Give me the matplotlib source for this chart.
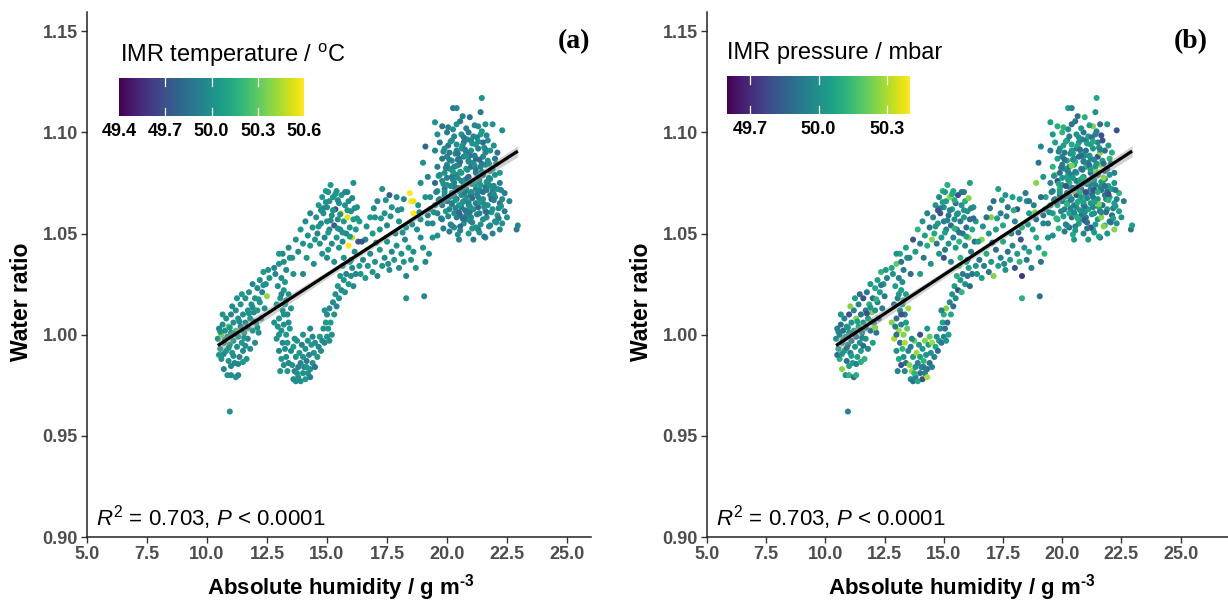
import numpy as np
import matplotlib
matplotlib.use("Agg")
import matplotlib.pyplot as plt
from matplotlib.colors import Normalize

# ---------------- data ----------------
abs_humidity = [
    # left cluster
    10.45, 10.50, 10.55, 10.60, 10.60, 10.65, 10.70, 10.70, 10.75, 10.80,
    10.80, 10.85, 10.85, 10.90, 10.90, 10.95, 11.00, 11.00, 11.00, 11.05,
    11.10, 11.10, 11.15, 11.20, 11.20, 11.20, 11.25, 11.30, 11.30, 11.35,
    11.40, 11.40, 11.45, 11.50, 11.50, 11.55, 11.60, 11.60, 11.65, 11.70,
    11.70, 11.75, 11.80, 11.80, 11.85, 11.90, 11.90, 11.95, 12.00, 12.00,
    12.05, 12.10, 12.10, 12.15, 12.20, 12.20, 12.25, 12.30, 12.35, 12.40,
    12.45, 12.50, 12.55, 10.95, 11.30, 10.50, 10.65, 11.05, 11.45, 11.25,
    10.55, 10.75, 10.95, 11.15, 11.35, 11.55, 11.75, 11.95, 12.15, 12.35,
    10.70, 10.90, 11.10, 11.30, 11.50, 11.70, 11.90, 12.10, 11.60, 11.00,
    # vertical streak
    12.80, 12.85, 12.90, 12.90, 12.95, 13.00, 13.00, 13.00, 13.05, 13.10,
    13.10, 13.10, 13.15, 13.15, 13.20, 13.20, 13.20, 13.25, 13.25, 13.30,
    13.30, 13.30, 13.35, 13.35, 13.40, 13.40, 13.45, 13.45, 13.50, 13.50,
    13.05, 13.15, 13.25, 13.00, 13.40, 13.35, 13.20, 13.10, 13.30, 12.95,
    # lower blob
    13.55, 13.60, 13.60, 13.65, 13.70, 13.70, 13.75, 13.80, 13.80, 13.85,
    13.90, 13.90, 13.95, 14.00, 14.00, 14.05, 14.10, 14.10, 14.15, 14.20,
    14.20, 14.25, 14.30, 14.30, 14.35, 14.40, 14.40, 14.45, 14.50, 14.50,
    14.60, 14.65, 14.70, 14.75, 14.80, 13.65, 14.00, 14.30, 13.75, 14.15,
    # rising arm
    14.85, 14.90, 14.95, 15.00, 15.00, 15.05, 15.10, 15.10, 15.15, 15.20,
    15.25, 15.30, 15.35, 15.40, 15.45, 15.50, 15.60, 15.70, 15.75, 15.80,
    15.90, 16.00, 16.05, 14.90, 15.55, 16.20, 16.35, 15.65, 16.10, 15.95,
    # upper-left arm
    12.60, 12.80, 13.00, 13.20, 13.40, 13.55, 13.70, 13.80, 13.90, 14.00,
    14.10, 14.15, 14.20, 14.30, 14.30, 14.40, 14.45, 14.50, 13.60, 14.00,
    # hump
    14.55, 14.60, 14.65, 14.70, 14.75, 14.80, 14.85, 14.90, 14.95, 15.00,
    15.00, 15.05, 15.10, 15.10, 15.15, 15.20, 15.20, 15.25, 15.30, 15.35,
    15.40, 15.40, 15.45, 15.50, 15.50, 15.55, 15.60, 15.60, 15.65, 15.70,
    15.75, 15.80, 15.85, 15.90, 15.90, 15.95, 16.00, 16.05, 16.10, 16.10,
    16.15, 16.20, 16.25, 16.30, 16.35, 15.30, 15.00, 14.80, 15.70, 16.00,
    14.65, 14.85, 15.05, 15.25, 15.45, 15.65, 15.85, 16.05, 16.25, 14.95,
    15.15, 15.35, 15.55, 15.75, 15.95, 16.15, 14.75, 15.05, 15.45, 15.85,
    # middle band
    16.40, 16.50, 16.60, 16.70, 16.80, 16.90, 17.00, 17.10, 17.20, 17.30,
    17.40, 17.50, 17.60, 17.70, 17.80, 17.90, 18.00, 18.10, 18.20, 18.30,
    18.40, 18.50, 18.60, 18.70, 18.30, 19.05, 16.90, 17.00, 17.10, 17.20,
    17.40, 17.50, 17.60, 17.70, 17.90, 18.00, 18.10, 18.20, 18.30, 18.45,
    18.50, 18.60, 18.60, 18.80, 18.90, 18.90, 19.00, 16.60, 16.80, 17.30,
    19.20, 19.30, 19.40, 19.10, 16.45, 17.55, 18.25, 18.75, 19.25, 17.85,
    16.65, 16.95, 17.25, 17.65, 17.95, 18.15, 18.55, 18.85, 17.05, 17.45,
    # main cluster
    19.60, 20.10, 20.50, 20.90, 21.30, 21.60, 21.90, 22.20, 20.30, 21.10,
    19.40, 19.80, 20.20, 20.40, 20.70, 21.00, 21.20, 21.50, 21.80, 22.00,
    22.30, 19.20, 19.60, 19.95, 20.55, 20.85, 21.35, 21.65, 22.10, 22.40,
    20.10, 20.30, 20.60, 20.80, 21.10, 21.30, 21.60, 21.90, 19.80, 21.00,
    19.50, 20.00, 20.20, 20.50, 20.70, 20.90, 21.20, 21.40, 21.70, 22.20,
    22.30, 19.30, 19.70, 19.90, 20.10, 20.40, 20.60, 20.80, 21.00, 21.30,
    21.50, 21.80, 22.00, 19.60, 19.90, 20.20, 20.30, 20.50, 20.80, 21.00,
    21.20, 21.40, 21.60, 21.90, 22.10, 19.50, 19.80, 20.00, 20.30, 20.60,
    20.70, 20.90, 21.10, 21.40, 21.70, 21.80, 22.20, 19.70, 19.90, 20.20,
    20.40, 20.60, 20.90, 21.20, 21.30, 21.50, 21.80, 22.00, 19.60, 20.00,
    20.10, 20.30, 20.50, 20.80, 21.00, 21.10, 21.40, 21.60, 21.90, 19.80,
    20.00, 20.20, 20.50, 20.70, 20.90, 21.20, 21.50, 21.70, 22.00, 19.50,
    19.90, 20.10, 20.40, 20.60, 20.80, 21.00, 21.30, 21.60, 21.80, 19.70,
    20.20, 20.40, 20.70, 21.00, 21.20, 21.50, 21.70, 19.60, 20.00, 20.30,
    20.60, 20.90, 21.10, 21.40, 19.80, 20.40, 20.80, 21.30, 21.60, 20.25,
    20.40, 21.45, 21.40, 20.65, 19.50, 19.10, 22.30, 21.90, 22.40, 22.60,
    22.50, 22.90, 22.95, 22.20, 22.10, 19.00, 19.20, 18.90, 19.10, 20.75,
    20.35, 20.65, 20.95, 21.25, 21.55, 21.85, 20.15, 20.45, 20.75, 21.05,
    21.35, 21.65, 21.95, 20.25, 20.55, 20.85, 21.15, 21.45, 21.75, 20.05,
    20.35, 20.65, 20.95, 21.25, 21.55, 20.55, 20.95, 21.35, 19.75, 22.15,
    19.45, 19.75, 20.05, 20.35, 20.65, 20.95, 21.25, 21.55, 21.85, 22.15,
    19.55, 19.85, 20.15, 20.45, 20.75, 21.05, 21.35, 21.65, 21.95, 22.25,
    19.65, 19.95, 20.25, 20.55, 20.85, 21.15, 21.45, 21.75, 22.05, 20.45,
    19.85, 20.15, 20.45, 20.75, 21.05, 21.35, 21.65, 21.95, 20.05, 20.85,
    20.25, 20.55, 21.15, 21.45, 20.95, 21.05, 20.55, 21.75, 22.05, 21.55,
    20.15, 20.45, 20.75, 21.05, 21.35, 21.65, 21.95, 22.25, 19.85, 19.65,
    20.30, 20.60, 20.90, 21.20, 21.50, 21.80, 20.00, 20.40, 20.80, 21.20,
    21.60, 21.30, 20.70, 20.10, 19.90, 20.50, 21.00, 21.40, 20.20, 20.90,
]

water_ratio = [
    # left cluster
    0.998, 1.003, 0.993, 1.000, 0.988, 1.005, 0.996, 0.983, 1.002, 0.992,
    1.008, 0.999, 0.980, 0.987, 1.004, 0.995, 1.010, 1.001, 0.980, 0.991,
    1.006, 0.997, 0.986, 1.012, 1.002, 0.979, 0.994, 1.008, 0.999, 0.989,
    1.015, 1.004, 0.996, 1.010, 0.992, 1.001, 1.018, 1.006, 0.988, 1.012,
    0.998, 1.021, 1.008, 0.993, 1.015, 1.002, 1.025, 1.011, 1.018, 0.996,
    1.006, 1.023, 1.012, 1.001, 1.027, 1.016, 1.008, 1.021, 1.031, 1.013,
    1.025, 1.019, 1.032, 0.962, 0.980, 0.990, 1.010, 1.014, 1.020, 1.018,
    1.0015, 0.9975, 1.0035, 1.0005, 1.0065, 0.9985, 1.0105, 1.0065, 1.0175, 1.0245,
    0.9905, 0.9935, 0.9895, 0.9855, 0.9865, 1.0035, 1.0135, 1.0035, 0.9945, 0.9845,
    # vertical streak
    1.006, 1.030, 1.015, 0.998, 1.024, 1.008, 1.035, 0.992, 1.018, 1.002,
    1.028, 0.988, 1.012, 0.996, 1.022, 1.005, 0.985, 1.015, 0.993, 1.032,
    1.000, 0.989, 1.010, 0.996, 1.020, 0.986, 1.003, 1.038, 0.992, 1.013,
    0.982, 1.040, 1.026, 1.000, 1.006, 0.982, 1.010, 1.020, 1.017, 1.004,
    # lower blob
    0.985, 0.978, 0.994, 0.982, 0.989, 0.977, 0.997, 0.984, 0.979, 0.991,
    0.986, 0.977, 0.995, 0.981, 0.989, 0.984, 0.978, 0.993, 0.987, 0.981,
    0.997, 0.990, 0.983, 0.979, 0.995, 0.986, 0.999, 0.991, 0.984, 0.996,
    0.989, 0.994, 0.999, 0.992, 0.997, 0.998, 1.000, 1.003, 0.981, 0.984,
    # rising arm
    1.003, 0.996, 1.006, 0.999, 1.010, 1.003, 0.997, 1.013, 1.006, 1.000,
    1.016, 1.010, 1.020, 1.014, 1.024, 1.018, 1.022, 1.027, 1.021, 1.030,
    1.025, 1.029, 1.033, 1.012, 1.029, 1.030, 1.034, 1.034, 1.024, 1.036,
    # upper-left arm
    1.028, 1.033, 1.040, 1.036, 1.043, 1.038, 1.047, 1.041, 1.052, 1.045,
    1.056, 1.038, 1.049, 1.060, 1.044, 1.053, 1.035, 1.047, 1.030, 1.030,
    # hump
    1.058, 1.050, 1.064, 1.045, 1.055, 1.068, 1.060, 1.048, 1.071, 1.056,
    1.063, 1.042, 1.066, 1.052, 1.074, 1.059, 1.045, 1.068, 1.054, 1.062,
    1.048, 1.071, 1.057, 1.065, 1.043, 1.052, 1.069, 1.060, 1.046, 1.056,
    1.064, 1.050, 1.058, 1.044, 1.066, 1.053, 1.061, 1.048, 1.057, 1.075,
    1.041, 1.052, 1.063, 1.046, 1.056, 1.036, 1.038, 1.040, 1.038, 1.037,
    1.0535, 1.0625, 1.0505, 1.0615, 1.0665, 1.0505, 1.0615, 1.0675, 1.0575, 1.0655,
    1.0565, 1.0695, 1.0595, 1.0705, 1.0485, 1.0625, 1.0615, 1.0705, 1.0525, 1.0705,
    # middle band
    1.030, 1.037, 1.028, 1.034, 1.040, 1.031, 1.036, 1.029, 1.042, 1.034,
    1.038, 1.046, 1.032, 1.041, 1.037, 1.044, 1.033, 1.040, 1.036, 1.029,
    1.043, 1.037, 1.041, 1.033, 1.018, 1.019, 1.050, 1.058, 1.066, 1.052,
    1.060, 1.054, 1.069, 1.063, 1.068, 1.056, 1.062, 1.067, 1.053, 1.070,
    1.066, 1.066, 1.060, 1.064, 1.048, 1.057, 1.043, 1.047, 1.058, 1.072,
    1.055, 1.062, 1.048, 1.036, 1.046, 1.035, 1.047, 1.052, 1.040, 1.050,
    1.0535, 1.0625, 1.0575, 1.0585, 1.0615, 1.0505, 1.0545, 1.0605, 1.0455, 1.0665,
    # main cluster
    1.049, 1.051, 1.047, 1.050, 1.052, 1.048, 1.050, 1.052, 1.053, 1.047,
    1.055, 1.057, 1.054, 1.058, 1.055, 1.056, 1.053, 1.057, 1.054, 1.056,
    1.055, 1.059, 1.060, 1.061, 1.059, 1.061, 1.060, 1.058, 1.059, 1.061,
    1.062, 1.060, 1.063, 1.059, 1.062, 1.063, 1.061, 1.062, 1.064, 1.058,
    1.064, 1.066, 1.065, 1.064, 1.066, 1.064, 1.065, 1.066, 1.064, 1.065,
    1.067, 1.068, 1.067, 1.069, 1.068, 1.067, 1.069, 1.068, 1.069, 1.068,
    1.067, 1.069, 1.068, 1.071, 1.072, 1.070, 1.073, 1.071, 1.072, 1.070,
    1.072, 1.071, 1.073, 1.071, 1.072, 1.075, 1.076, 1.074, 1.075, 1.076,
    1.074, 1.075, 1.076, 1.074, 1.075, 1.077, 1.075, 1.079, 1.080, 1.078,
    1.079, 1.080, 1.078, 1.080, 1.078, 1.079, 1.081, 1.079, 1.083, 1.084,
    1.082, 1.083, 1.084, 1.082, 1.083, 1.085, 1.083, 1.084, 1.082, 1.087,
    1.088, 1.086, 1.087, 1.088, 1.086, 1.087, 1.088, 1.086, 1.087, 1.091,
    1.092, 1.090, 1.091, 1.092, 1.090, 1.091, 1.092, 1.090, 1.091, 1.095,
    1.096, 1.094, 1.095, 1.096, 1.094, 1.095, 1.096, 1.099, 1.100, 1.098,
    1.099, 1.100, 1.098, 1.099, 1.103, 1.104, 1.102, 1.103, 1.104, 1.112,
    1.112, 1.117, 1.110, 1.108, 1.105, 1.093, 1.101, 1.104, 1.070, 1.066,
    1.058, 1.052, 1.054, 1.080, 1.090, 1.085, 1.078, 1.075, 1.068, 1.057,
    1.0625, 1.0655, 1.0605, 1.0695, 1.0630, 1.0670, 1.0735, 1.0775, 1.0705, 1.0745,
    1.0765, 1.0715, 1.0735, 1.0805, 1.0855, 1.0815, 1.0885, 1.0805, 1.0845, 1.0935,
    1.0895, 1.0935, 1.0885, 1.0975, 1.0925, 1.0535, 1.0565, 1.0505, 1.0575, 1.0625,
    1.0605, 1.0655, 1.0585, 1.0665, 1.0575, 1.0635, 1.0595, 1.0645, 1.0605, 1.0575,
    1.0705, 1.0745, 1.0685, 1.0725, 1.0765, 1.0675, 1.0715, 1.0755, 1.0665, 1.0715,
    1.0785, 1.0825, 1.0765, 1.0805, 1.0775, 1.0835, 1.0845, 1.0775, 1.0845, 1.0895,
    1.0905, 1.0955, 1.0865, 1.0915, 1.0945, 1.0865, 1.0985, 1.0935, 1.1025, 1.0965,
    1.1015, 1.1055, 1.1035, 1.1005, 1.1075, 1.0525, 1.0515, 1.0535, 1.0555, 1.0485,
    1.0545, 1.0495, 1.0615, 1.0555, 1.0655, 1.0605, 1.0695, 1.0635, 1.0525, 1.0665,
    1.0685, 1.0725, 1.0655, 1.0745, 1.0705, 1.0735, 1.0775, 1.0835, 1.0885, 1.0815,
    1.0915, 1.0955, 1.0975, 1.0865, 1.0705, 1.0605, 1.0705, 1.0545, 1.0645, 1.0855,
]

imr_temperature = [
    # left cluster
    50.00, 49.95, 50.05, 50.35, 50.00, 49.98, 50.02, 49.95, 50.00, 50.05,
    50.00, 49.95, 50.02, 50.00, 50.30, 50.05, 49.95, 50.00, 49.98, 50.02,
    50.00, 50.05, 49.95, 50.00, 50.30, 50.02, 49.98, 50.00, 50.05, 49.95,
    50.00, 49.97, 50.03, 50.00, 49.95, 50.05, 50.00, 49.98, 50.02, 50.00,
    49.95, 50.00, 50.05, 49.98, 50.00, 50.02, 49.95, 50.00, 50.03, 49.97,
    50.00, 49.95, 50.05, 50.00, 49.98, 50.02, 50.00, 49.95, 50.05, 50.00,
    49.98, 50.40, 50.00, 50.00, 49.95, 50.02, 50.00, 49.98, 50.05, 50.00,
    50.00, 49.95, 50.05, 50.00, 49.98, 50.02, 50.00, 49.95, 50.05, 50.00,
    49.97, 50.03, 50.00, 49.95, 50.05, 50.00, 49.98, 50.02, 50.00, 49.95,
    # vertical streak
    50.00, 49.95, 50.05, 50.00, 49.98, 50.02, 50.00, 49.95, 50.05, 50.00,
    49.97, 50.03, 50.00, 49.95, 50.05, 50.00, 49.98, 50.02, 50.00, 49.95,
    50.05, 50.00, 49.98, 50.02, 50.00, 49.95, 50.05, 50.00, 49.97, 50.03,
    50.00, 49.95, 50.05, 50.00, 49.98, 50.02, 50.00, 49.95, 50.05, 50.00,
    # lower blob
    50.00, 49.95, 50.05, 49.90, 50.00, 49.98, 50.02, 49.92, 50.00, 50.05,
    49.95, 50.00, 49.90, 50.02, 50.00, 49.95, 50.05, 50.00, 49.88, 50.00,
    50.02, 49.95, 50.00, 49.90, 50.05, 50.00, 49.95, 50.02, 49.85, 50.00,
    50.00, 49.95, 50.05, 50.00, 49.98, 50.00, 50.02, 49.95, 50.00, 50.05,
    # rising arm
    50.00, 49.95, 50.05, 50.00, 49.98, 50.02, 50.00, 49.95, 50.05, 50.00,
    49.97, 50.03, 50.00, 49.95, 50.05, 50.00, 49.98, 50.02, 50.00, 49.95,
    50.05, 50.00, 49.98, 50.02, 50.00, 49.95, 50.05, 50.00, 49.97, 50.03,
    # upper-left arm
    50.00, 49.95, 50.05, 50.00, 49.98, 50.02, 50.00, 49.95, 50.05, 50.00,
    49.97, 50.03, 50.00, 49.95, 50.05, 50.00, 49.98, 50.02, 50.00, 49.95,
    # hump
    50.00, 49.95, 50.05, 50.00, 49.98, 50.02, 50.00, 49.95, 50.05, 50.00,
    49.97, 50.03, 50.00, 49.95, 50.05, 50.00, 49.98, 50.02, 49.75, 49.70,
    50.05, 50.00, 49.98, 50.02, 50.00, 49.95, 50.05, 50.60, 49.97, 50.03,
    50.00, 49.95, 50.55, 50.60, 49.98, 50.02, 50.00, 50.50, 50.05, 50.00,
    49.97, 50.03, 50.00, 49.75, 50.05, 50.00, 49.98, 50.02, 50.00, 49.95,
    50.00, 49.95, 50.05, 50.00, 49.98, 50.02, 50.00, 49.95, 50.05, 50.00,
    49.97, 50.03, 50.00, 49.95, 50.05, 50.00, 49.98, 50.02, 50.00, 49.95,
    # middle band
    50.00, 49.95, 50.05, 50.00, 49.98, 50.02, 50.00, 49.95, 50.05, 50.00,
    49.97, 50.03, 50.00, 49.95, 50.05, 50.00, 49.98, 50.02, 50.00, 49.95,
    50.05, 50.00, 49.98, 50.02, 50.00, 49.95, 50.05, 50.00, 49.97, 50.03,
    50.00, 49.95, 49.75, 50.00, 49.98, 50.02, 50.00, 49.95, 50.05, 50.60,
    50.60, 50.55, 50.60, 50.00, 49.98, 50.02, 50.00, 49.95, 50.05, 50.00,
    49.97, 50.03, 50.00, 49.95, 49.70, 50.00, 49.98, 50.02, 50.00, 49.95,
    50.00, 49.95, 50.05, 50.00, 49.98, 50.02, 50.00, 49.95, 50.05, 50.00,
    # main cluster
    50.00, 49.90, 49.95, 50.05, 49.85, 50.00, 49.92, 49.97, 50.02, 49.88,
    49.95, 50.00, 49.88, 49.93, 50.03, 49.80, 49.98, 50.00, 49.90, 49.95,
    50.00, 49.90, 49.95, 50.05, 49.85, 50.00, 49.92, 49.97, 50.02, 49.88,
    49.95, 50.00, 49.88, 49.93, 50.03, 49.80, 49.98, 50.00, 49.90, 49.95,
    50.00, 49.90, 49.95, 50.05, 49.85, 50.00, 49.92, 49.97, 50.02, 49.88,
    49.95, 50.00, 49.88, 49.93, 50.03, 49.75, 49.98, 50.00, 49.90, 49.95,
    50.00, 49.90, 49.95, 50.05, 49.85, 50.00, 49.92, 49.97, 50.02, 49.88,
    49.95, 50.00, 49.88, 49.93, 50.03, 49.80, 49.98, 50.00, 49.90, 49.95,
    50.00, 49.90, 49.95, 50.05, 49.85, 50.00, 49.92, 49.97, 50.02, 49.88,
    49.95, 50.00, 49.75, 49.93, 50.03, 49.80, 49.98, 50.00, 49.90, 49.95,
    50.00, 49.90, 49.95, 50.05, 49.85, 50.00, 49.92, 49.97, 50.02, 49.88,
    49.95, 50.00, 49.88, 49.93, 50.03, 49.80, 49.98, 50.00, 49.90, 49.95,
    50.00, 49.90, 49.95, 50.05, 49.85, 50.00, 49.92, 49.97, 50.02, 49.88,
    49.95, 50.00, 49.88, 49.93, 50.03, 49.80, 49.98, 50.00, 49.90, 49.95,
    50.00, 49.90, 49.95, 50.05, 49.85, 50.00, 49.92, 49.97, 50.02, 49.88,
    49.95, 50.00, 49.88, 49.93, 50.03, 49.80, 49.98, 50.00, 49.90, 49.95,
    50.00, 49.90, 49.95, 50.05, 49.85, 50.00, 49.92, 49.97, 50.02, 49.88,
    49.95, 50.00, 49.88, 49.93, 50.03, 49.80, 49.98, 50.00, 49.90, 49.95,
    50.00, 49.90, 49.95, 50.05, 49.85, 50.00, 49.92, 49.97, 50.02, 49.88,
    49.95, 50.00, 49.88, 49.93, 50.03, 49.80, 49.98, 50.00, 49.90, 49.95,
    50.00, 49.90, 49.95, 50.05, 49.85, 50.00, 49.92, 49.97, 50.02, 49.88,
    49.95, 50.00, 49.88, 49.93, 50.03, 49.80, 49.98, 50.00, 49.90, 49.95,
    50.00, 49.90, 49.95, 50.05, 49.85, 50.00, 49.92, 49.97, 50.02, 49.88,
    49.95, 50.00, 49.88, 49.93, 50.03, 49.80, 49.98, 50.00, 49.90, 49.95,
    50.00, 49.90, 49.95, 50.05, 49.85, 50.00, 49.92, 49.97, 50.02, 49.88,
    49.95, 50.00, 49.88, 49.93, 50.03, 49.80, 49.98, 50.00, 49.90, 49.95,
    50.00, 49.90, 49.95, 50.05, 49.85, 50.00, 49.92, 49.97, 50.02, 49.88,
    49.95, 50.00, 49.88, 49.93, 50.03, 49.80, 49.98, 50.00, 49.90, 49.95,
]

imr_pressure = [
    # left cluster
    50.00, 49.92, 50.05, 49.95, 50.10, 49.90, 50.02, 50.25, 49.88, 50.05,
    49.95, 50.08, 50.00, 49.90, 50.05, 49.97, 49.80, 50.03, 50.12, 49.93,
    50.00, 49.92, 50.05, 49.95, 50.10, 49.90, 50.02, 50.25, 49.88, 50.05,
    49.95, 50.08, 50.00, 49.90, 50.05, 49.97, 49.80, 50.03, 50.12, 49.93,
    50.00, 49.92, 50.05, 49.95, 50.10, 49.90, 50.02, 50.25, 49.88, 50.05,
    49.95, 50.08, 50.00, 49.90, 50.05, 49.97, 49.80, 50.03, 50.12, 49.93,
    50.00, 49.92, 50.05, 49.95, 50.10, 49.90, 50.02, 50.25, 49.88, 50.05,
    49.95, 50.08, 50.00, 49.90, 50.05, 49.97, 49.80, 50.03, 50.12, 49.93,
    50.00, 49.92, 50.05, 49.95, 50.10, 49.90, 50.02, 50.25, 49.88, 50.05,
    # vertical streak
    50.25, 50.00, 49.92, 50.30, 50.05, 49.90, 50.20, 50.00, 49.95, 50.28,
    49.95, 50.08, 50.00, 49.90, 50.05, 49.97, 49.80, 50.03, 50.12, 49.93,
    50.25, 50.00, 49.92, 50.30, 50.05, 49.90, 50.20, 50.00, 49.95, 50.28,
    49.95, 50.08, 50.00, 49.90, 50.05, 49.97, 49.80, 50.03, 50.12, 49.93,
    # lower blob
    50.25, 50.00, 49.92, 50.30, 50.05, 49.90, 50.20, 50.00, 49.95, 50.28,
    49.95, 50.08, 50.00, 49.90, 50.05, 49.97, 49.80, 50.03, 50.12, 49.93,
    50.25, 50.00, 49.92, 50.30, 50.05, 49.90, 50.20, 50.00, 49.95, 50.28,
    49.95, 50.08, 50.00, 49.90, 50.05, 49.97, 49.80, 50.03, 50.12, 49.93,
    # rising arm
    50.00, 49.92, 50.05, 49.95, 50.10, 49.90, 50.02, 50.25, 49.88, 50.05,
    49.95, 50.08, 50.00, 49.90, 50.05, 49.97, 49.80, 50.03, 50.12, 49.93,
    50.00, 49.92, 50.05, 49.95, 50.10, 49.90, 50.02, 50.25, 49.88, 50.05,
    # upper-left arm
    49.95, 50.08, 50.00, 49.90, 50.05, 49.97, 49.80, 50.03, 50.12, 49.93,
    50.00, 49.92, 50.05, 49.95, 50.10, 49.90, 50.02, 50.25, 49.88, 50.05,
    # hump
    49.95, 50.08, 50.00, 49.90, 50.05, 49.97, 49.80, 50.03, 50.12, 49.93,
    50.00, 49.92, 50.05, 49.95, 50.10, 49.90, 50.02, 50.25, 49.88, 50.05,
    49.95, 50.08, 50.00, 49.90, 50.05, 49.97, 49.80, 50.03, 50.12, 49.93,
    50.00, 49.92, 50.05, 49.95, 50.10, 49.90, 50.02, 50.25, 49.88, 50.05,
    49.95, 50.08, 50.00, 49.90, 50.05, 49.97, 49.80, 50.03, 50.12, 49.93,
    50.00, 49.92, 50.05, 49.95, 50.10, 49.90, 50.02, 50.25, 49.88, 50.05,
    49.95, 50.08, 50.00, 49.90, 50.05, 49.97, 49.80, 50.03, 50.12, 49.93,
    # middle band
    50.00, 49.92, 50.05, 49.95, 50.10, 49.90, 50.02, 50.25, 49.88, 50.05,
    49.95, 50.08, 50.00, 49.90, 50.05, 49.97, 49.80, 50.03, 50.12, 49.72,
    50.00, 49.92, 50.05, 49.95, 50.10, 49.90, 50.02, 50.25, 49.88, 50.05,
    49.95, 50.08, 50.00, 49.90, 50.05, 49.97, 49.80, 50.03, 50.12, 49.93,
    50.00, 49.92, 50.05, 49.95, 50.10, 49.90, 50.02, 50.25, 49.88, 50.05,
    49.95, 50.08, 50.00, 49.90, 50.05, 49.97, 49.80, 50.03, 50.12, 49.93,
    50.00, 49.92, 50.05, 49.95, 50.10, 49.90, 50.02, 50.25, 49.88, 50.05,
    # main cluster
    50.00, 49.92, 50.05, 49.95, 50.10, 49.90, 50.02, 50.25, 49.88, 50.05,
    49.95, 50.08, 50.00, 49.90, 50.05, 49.97, 49.80, 50.03, 50.12, 49.93,
    50.00, 49.92, 50.05, 49.95, 50.10, 49.90, 50.02, 50.25, 49.88, 50.05,
    49.95, 50.08, 50.00, 49.90, 50.05, 49.97, 49.78, 50.03, 50.12, 49.93,
    50.00, 49.92, 50.05, 49.95, 50.10, 49.90, 50.02, 50.25, 49.88, 50.05,
    49.95, 50.08, 50.00, 49.90, 50.05, 49.97, 49.80, 50.03, 50.12, 49.93,
    50.00, 49.92, 50.05, 49.95, 50.10, 49.90, 50.02, 50.25, 49.88, 50.05,
    49.95, 50.08, 50.00, 49.90, 50.05, 49.97, 49.80, 50.03, 50.12, 49.93,
    50.00, 49.92, 50.05, 49.95, 50.10, 49.90, 50.02, 50.25, 49.88, 50.05,
    49.95, 50.08, 50.00, 49.90, 50.05, 49.97, 49.75, 50.03, 50.12, 49.93,
    50.00, 49.92, 50.05, 49.95, 50.10, 49.90, 50.02, 50.25, 49.88, 50.05,
    49.95, 50.08, 50.00, 49.90, 50.05, 49.97, 49.80, 50.03, 50.12, 49.93,
    50.00, 49.92, 50.05, 49.95, 50.10, 49.90, 50.02, 50.25, 49.88, 50.05,
    49.95, 50.08, 50.00, 49.90, 50.05, 49.97, 49.80, 50.03, 50.12, 49.93,
    50.00, 49.92, 50.05, 49.95, 50.10, 49.90, 50.02, 50.25, 49.88, 50.05,
    49.95, 50.08, 50.00, 49.90, 50.05, 49.97, 49.80, 50.03, 50.12, 49.93,
    50.00, 49.92, 50.05, 49.95, 50.10, 49.90, 50.02, 50.25, 49.88, 50.05,
    49.95, 50.08, 50.00, 49.90, 50.05, 49.97, 49.80, 50.03, 50.12, 49.93,
    50.00, 49.92, 50.05, 49.95, 50.10, 49.90, 50.02, 50.25, 49.88, 50.05,
    49.95, 50.08, 50.00, 49.90, 50.05, 49.97, 49.80, 50.03, 50.12, 49.93,
    50.00, 49.92, 50.05, 49.95, 50.10, 49.90, 50.02, 50.25, 49.88, 50.05,
    49.95, 50.08, 50.00, 49.90, 50.05, 49.97, 49.80, 50.03, 50.12, 49.93,
    50.00, 49.92, 50.05, 49.95, 50.10, 49.90, 50.02, 50.25, 49.88, 50.05,
    49.95, 50.08, 50.00, 49.90, 50.05, 49.97, 49.80, 50.03, 50.12, 49.93,
    50.00, 49.92, 50.05, 49.95, 50.10, 49.90, 50.02, 50.25, 49.88, 50.05,
    49.95, 50.08, 50.00, 49.90, 50.05, 49.97, 49.80, 50.03, 50.12, 49.93,
    50.00, 49.92, 50.05, 49.95, 50.10, 49.90, 50.02, 50.25, 49.88, 50.05,
    49.95, 50.08, 50.00, 49.90, 50.05, 49.97, 49.80, 50.03, 50.12, 49.93,
]

x_ticks = [5.0, 7.5, 10.0, 12.5, 15.0, 17.5, 20.0, 22.5, 25.0]
y_ticks = [0.90, 0.95, 1.00, 1.05, 1.10, 1.15]
temp_ticks = [49.4, 49.7, 50.0, 50.3, 50.6]
pres_ticks = [49.7, 50.0, 50.3]
stat_label = "$R^{2}$ = 0.703, $P$ < 0.0001"
x_title = "Absolute humidity / g m$^{\\mathbf{\u20103}}$"
y_title = "Water ratio"

assert len(abs_humidity) == len(water_ratio) == len(imr_temperature) == len(imr_pressure)

# ---------------- style ----------------
plt.rcParams["font.family"] = ["Liberation Sans", "DejaVu Sans"]
plt.rcParams["mathtext.fontset"] = "custom"
plt.rcParams["mathtext.rm"] = "Liberation Sans"
plt.rcParams["mathtext.it"] = "Liberation Sans:italic"
plt.rcParams["mathtext.bf"] = "Liberation Sans:bold"

W, H = 1228, 603
fig = plt.figure(figsize=(W / 100, H / 100), dpi=100)


def rect(l, t, r, b):
    return [l / W, 1 - b / H, (r - l) / W, (b - t) / H]


def fx(px):
    return px / W


def fy(py):
    return 1 - py / H


x = np.array(abs_humidity)
y = np.array(water_ratio)
slope, intercept = np.polyfit(x, y, 1)
xs = np.linspace(x.min(), x.max(), 200)
yfit = intercept + slope * xs
resid = y - (intercept + slope * x)
n = len(x)
s_err = np.sqrt(np.sum(resid ** 2) / (n - 2))
se = s_err * np.sqrt(1 / n + (xs - x.mean()) ** 2 / np.sum((x - x.mean()) ** 2))
band = 1.96 * se

panels = [
    dict(ax=rect(87, 12, 591, 537), xlim=(5.0, 26.0), c=imr_temperature,
         vmin=49.4, vmax=50.6, cb=rect(119, 78, 304, 116), cbt=temp_ticks,
         title="IMR temperature / $^{\\mathrm{o}}$C", tx=120, ty=55,
         tag="(a)", tagx=574, ylab_x=22, xlab_x=341, stat_x=96),
    dict(ax=rect(707, 12, 1228, 537), xlim=(5.0, 27.0), c=imr_pressure,
         vmin=49.6, vmax=50.4, cb=rect(727, 76, 910, 114), cbt=pres_ticks,
         title="IMR pressure / mbar", tx=727, ty=53,
         tag="(b)", tagx=1191, ylab_x=642, xlab_x=962, stat_x=716),
]

for p in panels:
    ax = fig.add_axes(p["ax"])
    ax.scatter(x, y, c=p["c"], cmap="viridis",
               norm=Normalize(p["vmin"], p["vmax"]), s=19, linewidths=0,
               zorder=2)
    ax.fill_between(xs, yfit - band, yfit + band, color="#999999",
                    alpha=0.45, lw=0, zorder=3)
    ax.plot(xs, yfit, color="black", lw=2.3, zorder=4,
            solid_capstyle="butt")
    ax.set_xlim(*p["xlim"])
    ax.set_ylim(0.90, 1.1595)
    ax.set_xticks(x_ticks, [f"{v:.1f}" for v in x_ticks], fontweight="bold")
    ax.set_yticks(y_ticks, [f"{v:.2f}" for v in y_ticks], fontweight="bold")
    ax.tick_params(axis="both", direction="out", length=4, width=1,
                   color="#333333", labelcolor="#4D4D4D", labelsize=13,
                   pad=2.5)
    for side in ("top", "right"):
        ax.spines[side].set_visible(False)
    for side in ("left", "bottom"):
        ax.spines[side].set_color("#222222")
        ax.spines[side].set_linewidth(1.1)
    ax.set_facecolor("none")

    fig.text(fx(p["stat_x"]), fy(518), stat_label, fontsize=16,
             ha="left", va="center")
    fig.text(fx(p["tagx"]), fy(42), p["tag"], fontsize=20, fontweight="bold",
             family="Liberation Serif", ha="center", va="center")
    fig.text(fx(p["xlab_x"]), fy(588), x_title,
             fontsize=16, fontweight="bold", ha="center", va="center")
    fig.text(fx(p["ylab_x"]), fy(302), y_title, fontsize=16.5,
             fontweight="bold", rotation=90, ha="center", va="center")

    # colour bar legend
    cax = fig.add_axes(p["cb"])
    grad = np.linspace(p["vmin"], p["vmax"], 300)[None, :]
    cax.imshow(grad, aspect="auto", cmap="viridis",
               extent=[p["vmin"], p["vmax"], 0, 1],
               norm=Normalize(p["vmin"], p["vmax"]))
    cax.set_xlim(p["vmin"], p["vmax"])
    cax.set_ylim(0, 1)
    for t in p["cbt"]:
        if p["vmin"] < t < p["vmax"]:
            cax.plot([t, t], [0, 0.2], color="white", lw=0.9)
            cax.plot([t, t], [0.8, 1], color="white", lw=0.9)
    cax.set_xticks(p["cbt"], [f"{v:.1f}" for v in p["cbt"]],
                   fontweight="bold")
    cax.set_yticks([])
    cax.tick_params(axis="x", length=0, labelsize=13, pad=5,
                    labelcolor="black")
    for sp in cax.spines.values():
        sp.set_visible(False)
    fig.text(fx(p["tx"]), fy(p["ty"]), p["title"], fontsize=17,
             ha="left", va="center")

fig.savefig("out.png", dpi=100)
